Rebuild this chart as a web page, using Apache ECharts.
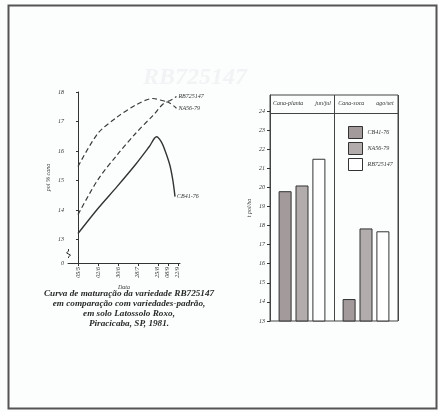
<!DOCTYPE html>
<html>
<head>
<meta charset="utf-8">
<script src="https://cdn.jsdelivr.net/npm/echarts@6/dist/echarts.min.js"></script>
<style>
  html, body { margin: 0; padding: 0; background: #fcfdfd; }
  #main { width: 439px; height: 412px; }
</style>
</head>
<body>
<div id="main"></div>
<script>
// curva de maturacao (dias a partir de 05/5, pol % cana)
var tickDays = [0, 28, 56, 84, 112, 126, 140];
var tickDates = ['05/5', '02/6', '30/6', '28/7', '25/8', '08/9', '22/9'];

var cbDays = [0, 28, 55, 81, 100, 110, 117, 123, 129, 133, 136];
var cbPol = [13.2, 14.05, 14.8, 15.55, 16.15, 16.48, 16.3, 15.95, 15.5, 15.0, 14.45];
var naDays = [0, 28, 55, 81, 105, 125, 138];
var naPol = [13.84, 15.03, 15.87, 16.6, 17.2, 17.66, 17.45];
var rbDays = [0, 28, 55, 81, 105, 125, 138];
var rbPol = [15.47, 16.6, 17.15, 17.56, 17.78, 17.68, 17.85];

// producao t pol/ha
var grupos = ['Cana-planta', 'Cana-soca'];
var epocas = ['jun/jul', 'ago/set'];
var cbTon = [19.8, 14.15];
var naTon = [20.1, 17.85];
var rbTon = [21.5, 17.7];

var serif = 'Liberation Serif';
var ink = '#333';

function pares(xs, ys) {
  return xs.map(function (x, i) { return [x, ys[i]]; });
}

var chart = echarts.init(document.getElementById('main'));

var option = {
  backgroundColor: '#fcfdfd',
  animation: false,
  textStyle: { fontFamily: serif, fontStyle: 'italic', color: ink },
  grid: [
    { left: 68, top: 92, width: 112, height: 171 },
    { left: 270, top: 95, width: 128, height: 226, show: true,
      borderColor: '#444', borderWidth: 1, backgroundColor: 'transparent' }
  ],
  legend: {
    orient: 'vertical',
    left: 343, top: 121,
    itemWidth: 14, itemHeight: 12, itemGap: 3,
    icon: 'rect',
    data: ['CB41-76', 'NA56-79', 'RB725147'],
    textStyle: { fontSize: 6, fontStyle: 'italic', fontFamily: serif, color: ink, padding: [6, 0, 0, 0] },
    itemStyle: { borderColor: '#333', borderWidth: 1 }
  },
  xAxis: [
    {
      type: 'value', gridIndex: 0, min: -14, max: 143,
      name: 'Data', nameLocation: 'middle', nameGap: 21,
      nameTextStyle: { fontSize: 6, fontStyle: 'italic', color: ink },
      axisLine: { lineStyle: { color: ink, width: 1 } },
      axisTick: { customValues: tickDays, length: 3, lineStyle: { color: ink } },
      axisLabel: {
        customValues: tickDays, rotate: 90, fontSize: 6, margin: 4, color: ink,
        formatter: function (v) { return tickDates[tickDays.indexOf(v)]; }
      },
      splitLine: { show: false }
    },
    {
      type: 'category', gridIndex: 1, data: grupos,
      axisLine: { show: false }, axisTick: { show: false },
      axisLabel: { show: false },
      splitLine: { show: true, interval: 0, lineStyle: { color: '#444', width: 1 } }
    },
    {
      type: 'category', gridIndex: 1, position: 'top', data: grupos,
      axisLine: { show: false }, axisTick: { show: false },
      axisLabel: {
        inside: true, interval: 0, margin: 5, fontSize: 6, color: ink,
        formatter: function (v, i) { return '{a|' + v + '}{b|' + epocas[i] + '}'; },
        rich: {
          a: { fontSize: 6, fontStyle: 'italic', fontFamily: serif, color: ink },
          b: { fontSize: 6, fontStyle: 'italic', fontFamily: serif, color: ink, padding: [0, 0, 0, 12] }
        }
      }
    }
  ],
  yAxis: [
    {
      type: 'value', gridIndex: 0, min: 12.2, max: 18,
      name: 'pol % cana', nameLocation: 'middle', nameGap: 17, nameRotate: 90,
      nameTextStyle: { fontSize: 6, fontStyle: 'italic', color: ink },
      axisLine: { show: true, lineStyle: { color: ink, width: 1 } },
      axisTick: { show: true, customValues: [13, 14, 15, 16, 17, 18], length: 2, lineStyle: { color: ink } },
      axisLabel: {
        customValues: [12.2, 13, 14, 15, 16, 17, 18], fontSize: 6, margin: 4, color: ink,
        formatter: function (v) { return v < 12.5 ? '0' : String(v); }
      },
      splitLine: { show: false }
    },
    {
      type: 'value', gridIndex: 1, min: 13, max: 24.84,
      name: 't pol/ha', nameLocation: 'middle', nameGap: 18, nameRotate: 90,
      nameTextStyle: { fontSize: 6, fontStyle: 'italic', color: ink },
      axisLine: { show: true, lineStyle: { color: '#444', width: 1 } },
      axisTick: { show: true, customValues: [13, 14, 15, 16, 17, 18, 19, 20, 21, 22, 23, 24], length: 3, lineStyle: { color: ink } },
      axisLabel: {
        customValues: [13, 14, 15, 16, 17, 18, 19, 20, 21, 22, 23, 24], fontSize: 6, margin: 5, color: ink
      },
      splitLine: { show: false }
    }
  ],
  series: [
    {
      name: 'RB725147 ', type: 'line', xAxisIndex: 0, yAxisIndex: 0,
      data: pares(rbDays, rbPol), smooth: 0.3, symbol: 'none',
      lineStyle: { color: '#3a3a3a', width: 1.2, type: [5, 3] },
      endLabel: { show: true, formatter: 'RB725147', fontSize: 6, fontStyle: 'italic', color: ink, distance: 2 }
    },
    {
      name: 'NA56-79 ', type: 'line', xAxisIndex: 0, yAxisIndex: 0,
      data: pares(naDays, naPol), smooth: 0.3, symbol: 'none',
      lineStyle: { color: '#3a3a3a', width: 1.2, type: [5, 3] },
      endLabel: { show: true, formatter: 'NA56-79', fontSize: 6, fontStyle: 'italic', color: ink, distance: 2 }
    },
    {
      name: 'CB41-76 ', type: 'line', xAxisIndex: 0, yAxisIndex: 0,
      data: pares(cbDays, cbPol), smooth: 0.3, symbol: 'none',
      lineStyle: { color: '#333', width: 1.4 },
      endLabel: { show: true, formatter: 'CB41-76', fontSize: 6, fontStyle: 'italic', color: ink, distance: 2 }
    },
    {
      name: 'CB41-76', type: 'bar', xAxisIndex: 1, yAxisIndex: 1,
      data: cbTon, barWidth: 13, barGap: '30%',
      itemStyle: { color: '#a39a9b', borderColor: '#333', borderWidth: 1 },
      markLine: {
        silent: true, symbol: 'none', label: { show: false },
        lineStyle: { color: '#444', width: 1, type: 'solid' },
        data: [{ yAxis: 23.9 }]
      }
    },
    {
      name: 'NA56-79', type: 'bar', xAxisIndex: 1, yAxisIndex: 1,
      data: naTon, barWidth: 13, barGap: '30%',
      itemStyle: { color: '#b2acac', borderColor: '#333', borderWidth: 1 }
    },
    {
      name: 'RB725147', type: 'bar', xAxisIndex: 1, yAxisIndex: 1,
      data: rbTon, barWidth: 13, barGap: '30%',
      itemStyle: { color: '#ffffff', borderColor: '#333', borderWidth: 1 }
    }
  ]
};

chart.setOption(option);

// quebra do eixo e moldura
var p = chart.convertToPixel({ gridIndex: 0 }, [-14, 12.55]);
var ax = Math.round(p[0]) + 0.5, by = Math.round(p[1]);
chart.setOption({
  graphic: [
    { type: 'rect', silent: true, shape: { x: 8.5, y: 5.5, width: 428, height: 403 },
      style: { fill: 'none', stroke: '#555', lineWidth: 2 } },
    { type: 'text', silent: true, x: 143, y: 66, z: -1,
      style: { text: 'RB725147', fill: '#f1f3f5', font: 'italic bold 24px "Liberation Serif"' } },
    { type: 'rect', silent: true, shape: { x: ax - 2, y: by - 3, width: 4, height: 7 },
      style: { fill: '#fcfdfd' }, z: 10 },
    { type: 'polyline', silent: true, z: 11,
      shape: { points: [[ax, by - 4], [ax, by - 2], [ax - 2, by], [ax + 2, by + 2], [ax, by + 4], [ax, by + 5]] },
      style: { stroke: ink, lineWidth: 1, fill: 'none' } },
    { type: 'text', silent: true, x: 129, y: 289,
      style: {
        text: 'Curva de maturação da variedade RB725147\nem comparação com variedades-padrão,\nem solo Latossolo Roxo,\nPiracicaba, SP, 1981.',
        textAlign: 'center', align: 'center', lineHeight: 10, fill: '#2a2a2a',
        font: 'italic bold 9.2px "Liberation Serif"'
      } }
  ]
});
</script>
</body>
</html>
